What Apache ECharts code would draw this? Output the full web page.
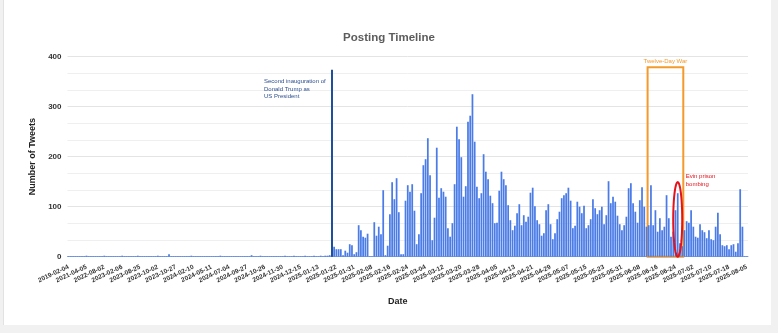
<!DOCTYPE html>
<html><head><meta charset="utf-8">
<script src="https://cdn.jsdelivr.net/npm/echarts@6/dist/echarts.min.js"></script>
<style>
html,body{margin:0;padding:0;background:#f1f1f1;width:778px;height:333px;overflow:hidden}
#card{position:absolute;left:3px;top:0;width:767px;height:325px;background:#fff;border-left:1px solid #e2e2e2}
#chart{position:absolute;left:0;top:0;width:778px;height:333px}
</style></head><body><div id="card"></div><div id="chart"></div>
<script>
// ---- categories (posting dates) ----
const datesEarly = [
'2019-02-04','2019-05-12','2019-09-03','2019-12-20','2020-03-15','2020-07-08','2020-10-22','2021-01-30',
'2021-04-05','2021-06-18','2021-08-27','2021-11-09','2022-01-14','2022-03-22','2022-05-19','2022-07-01',
'2022-08-02','2022-08-29','2022-09-25','2022-10-20','2022-11-14','2022-12-08','2022-12-30','2023-01-19',
'2023-02-06','2023-03-04','2023-03-30','2023-04-25','2023-05-20','2023-06-14','2023-07-09','2023-08-02',
'2023-08-25','2023-08-29','2023-09-03','2023-09-08','2023-09-14','2023-09-19','2023-09-24','2023-09-28',
'2023-10-02','2023-10-05','2023-10-08','2023-10-11','2023-10-14','2023-10-18','2023-10-21','2023-10-24',
'2023-10-27','2023-11-10','2023-11-24','2023-12-09','2023-12-23','2024-01-08','2024-01-22','2024-01-28',
'2024-02-10','2024-02-22','2024-03-06','2024-03-19','2024-04-01','2024-04-14','2024-04-26','2024-05-03',
'2024-05-11','2024-05-18','2024-05-25','2024-06-01','2024-06-08','2024-06-15','2024-06-22','2024-06-28',
'2024-07-04','2024-07-15','2024-07-26','2024-08-06','2024-08-17','2024-08-28','2024-09-08','2024-09-18',
'2024-09-27','2024-10-01','2024-10-05','2024-10-09','2024-10-13','2024-10-17','2024-10-20','2024-10-23',
'2024-10-26','2024-10-31','2024-11-05','2024-11-09','2024-11-14','2024-11-19','2024-11-23','2024-11-27',
'2024-11-30','2024-12-02','2024-12-04','2024-12-06','2024-12-08','2024-12-10','2024-12-12','2024-12-14',
'2024-12-15','2024-12-18','2024-12-21','2024-12-25','2024-12-29','2025-01-02','2025-01-06','2025-01-10',
'2025-01-13'];
const datesJan2025 = ['2025-01-14','2025-01-15','2025-01-16','2025-01-17','2025-01-19','2025-01-20','2025-01-21','2025-01-22',
'2025-01-23','2025-01-24','2025-01-25','2025-01-27','2025-01-28','2025-01-29','2025-01-30','2025-01-31'];
const datesFeb2025 = ['2025-02-01','2025-02-02','2025-02-03','2025-02-04','2025-02-05','2025-02-06','2025-02-07','2025-02-08',
'2025-02-09','2025-02-10','2025-02-11','2025-02-12','2025-02-13','2025-02-14','2025-02-15','2025-02-16','2025-02-17','2025-02-18',
'2025-02-19','2025-02-20','2025-02-21','2025-02-22','2025-02-23','2025-02-24','2025-02-25','2025-02-26','2025-02-27','2025-02-28'];
const datesMar2025 = ['2025-03-01','2025-03-02','2025-03-03','2025-03-04','2025-03-05','2025-03-06','2025-03-07','2025-03-08',
'2025-03-09','2025-03-10','2025-03-11','2025-03-12','2025-03-13','2025-03-14','2025-03-15','2025-03-16','2025-03-17','2025-03-18',
'2025-03-19','2025-03-20','2025-03-21','2025-03-22','2025-03-23','2025-03-24','2025-03-25','2025-03-26','2025-03-27','2025-03-28',
'2025-03-29','2025-03-30','2025-03-31'];
const datesApr2025 = ['2025-04-01','2025-04-02','2025-04-03','2025-04-04','2025-04-05','2025-04-06','2025-04-07','2025-04-08',
'2025-04-09','2025-04-10','2025-04-11','2025-04-12','2025-04-13','2025-04-14','2025-04-15','2025-04-16','2025-04-17','2025-04-18',
'2025-04-19','2025-04-20','2025-04-21','2025-04-22','2025-04-23','2025-04-24','2025-04-25','2025-04-26','2025-04-27','2025-04-28',
'2025-04-29','2025-04-30'];
const datesMay2025 = ['2025-05-01','2025-05-02','2025-05-03','2025-05-04','2025-05-05','2025-05-06','2025-05-07','2025-05-08',
'2025-05-09','2025-05-10','2025-05-11','2025-05-12','2025-05-13','2025-05-14','2025-05-15','2025-05-16','2025-05-17','2025-05-18',
'2025-05-19','2025-05-20','2025-05-21','2025-05-22','2025-05-23','2025-05-24','2025-05-25','2025-05-26','2025-05-27','2025-05-28',
'2025-05-29','2025-05-30','2025-05-31'];
const datesJun2025 = ['2025-06-01','2025-06-02','2025-06-03','2025-06-04','2025-06-05','2025-06-06','2025-06-07','2025-06-08',
'2025-06-09','2025-06-10','2025-06-11','2025-06-12','2025-06-13','2025-06-14','2025-06-15','2025-06-16','2025-06-17','2025-06-18',
'2025-06-19','2025-06-20','2025-06-21','2025-06-22','2025-06-23','2025-06-24','2025-06-25','2025-06-26','2025-06-27','2025-06-28',
'2025-06-29','2025-06-30'];
const datesJul2025 = ['2025-07-01','2025-07-02','2025-07-03','2025-07-04','2025-07-05','2025-07-06','2025-07-07','2025-07-08',
'2025-07-09','2025-07-10','2025-07-11','2025-07-12','2025-07-13','2025-07-14','2025-07-15','2025-07-16','2025-07-17','2025-07-18',
'2025-07-19','2025-07-20','2025-07-21','2025-07-22','2025-07-23','2025-07-24','2025-07-25'];
const datesAug2025 = ['2025-08-05'];

// ---- series values: number of tweets per date ----
const countsEarly = [
1,1,1,1,1,1,1,1,2,1, 1,1,1,1,1,1,2,1,1,1, 1,1,1,1,2,1,1,1,1,1, 1,2,1,1,1,1,1,1,1,1,
2,1,1,1,1,5,1,1,1,1, 1,1,1,1,1,2,1,1,1,1, 1,1,1,1,1,1,1,1,2,1, 1,1,1,1,1,1,1,1,1,1,
1,1,3,1,1,1,2,1,1,1, 1,1,1,1,1,1,1,2,1,1, 1,2,1,1,1,1,2,1,1,1, 2,1,1];
const countsJan2025 = [2,1,2,2,3,17,20,15,15,15,3,12,8,25,23,5];
const countsFeb2025 = [9,63,53,40,38,46,1,1,69,42,60,45,133,3,22,85,149,115,157,89,5,5,112,143,130,145,92,25];
const countsMar2025 = [45,127,183,195,237,163,33,78,218,118,137,130,120,57,40,67,145,260,235,199,120,141,270,282,325,230,140,117,127,205,170];
const countsApr2025 = [155,122,107,67,68,132,170,155,143,103,73,53,62,87,105,63,83,70,80,128,138,101,73,65,42,47,93,105,65,35];
const countsMay2025 = [47,75,90,117,123,127,138,112,57,62,110,100,87,102,57,63,75,115,97,85,93,100,65,83,151,107,120,110,82,65,53];
const countsJun2025 = [63,80,137,147,107,90,68,113,139,100,60,63,143,63,93,50,77,53,60,123,77,40,50,93,127,27,21,53,71,68];
const countsJul2025 = [93,60,40,38,65,53,49,37,53,35,33,60,88,45,23,21,23,15,23,25,10,27,135,60,1];
const countsAug2025 = [1];

// ---- y axis ticks ----
const yTicks = [0, 100, 200, 300, 400];

// ---- annotations ----
const inaugurationDate = '2025-01-20';
const inaugurationLineTop = 374;
const warBoxStart = '2025-06-12';
const warBoxEnd = '2025-06-25';
const warBoxTop = 379;
const evinDate = '2025-06-25';
const evinEllipseTop = 149;

const dates = [].concat(datesEarly, datesJan2025, datesFeb2025, datesMar2025, datesApr2025, datesMay2025, datesJun2025, datesJul2025, datesAug2025);
const counts = [].concat(countsEarly, countsJan2025, countsFeb2025, countsMar2025, countsApr2025, countsMay2025, countsJun2025, countsJul2025, countsAug2025);

const FONT = '"Liberation Sans", Arial, sans-serif';
const chart = echarts.init(document.getElementById('chart'));
const lineIdx = dates.indexOf(inaugurationDate);
const evinIdx = dates.indexOf(evinDate);

chart.setOption({
  animation: false,
  title: {
    text: 'Posting Timeline', left: 'center', top: 27,
    textStyle: { fontFamily: FONT, fontSize: 11.5, fontWeight: 'bold', color: '#5c5c5c' }
  },
  grid: { left: 67.5, right: 30, top: 56.7, bottom: 76.3 },
  xAxis: {
    type: 'category', data: dates,
    name: 'Date', nameLocation: 'middle', nameGap: 40,
    nameTextStyle: { fontFamily: FONT, fontSize: 9, fontWeight: 'bold', color: '#222', padding: [0, 20, 0, 0] },
    axisLine: { lineStyle: { color: '#8ea6dc', width: 1 } },
    axisTick: { show: false },
    axisLabel: { interval: 7, rotate: 25, fontFamily: FONT, fontSize: 6.5, fontWeight: 'bold', color: '#333', margin: 10 }
  },
  yAxis: {
    type: 'value', min: yTicks[0], max: yTicks[yTicks.length - 1], interval: yTicks[1] - yTicks[0],
    name: 'Number of Tweets', nameLocation: 'middle', nameGap: 27,
    nameTextStyle: { fontFamily: FONT, fontSize: 9, fontWeight: 'bold', color: '#222', padding: [0, 0, 0, 0] },
    axisLine: { show: false }, axisTick: { show: false },
    axisLabel: { fontFamily: FONT, fontSize: 8, fontWeight: 'bold', color: '#333', margin: 6 },
    splitLine: { lineStyle: { color: '#e4e4e4' } },
    minorTick: { show: false, splitNumber: 3 },
    minorSplitLine: { show: true, lineStyle: { color: '#efefef' } }
  },
  graphic: [{
    type: 'text', left: 264, top: 78, z: 100,
    style: { text: 'Second inauguration of\nDonald Trump as\nUS President', fill: '#2d4f8f',
      fontFamily: FONT, fontSize: 6, lineHeight: 7.3 }
  }],
  series: [{
    type: 'bar', data: counts, barCategoryGap: '22%',
    itemStyle: { color: '#4a7be6' },
    markLine: {
      silent: true, symbol: ['none', 'none'], label: { show: false },
      lineStyle: { color: '#1f4e9b', width: 2, type: 'solid' },
      data: [[{ coord: [lineIdx, 0] }, { coord: [lineIdx, inaugurationLineTop] }]]
    },
    markArea: {
      silent: true,
      itemStyle: { color: 'rgba(0,0,0,0)', borderColor: '#f39a2d', borderWidth: 2 },
      label: { show: true, position: 'top', distance: 2, formatter: 'Twelve-Day War', color: '#f39a2d', fontFamily: FONT, fontSize: 6 },
      data: [[{ coord: [dates.indexOf(warBoxStart), 0] }, { coord: [dates.indexOf(warBoxEnd), warBoxTop] }]]
    }
  }, {
    type: 'custom', clip: false, z: 10, silent: true,
    data: [[evinIdx, evinEllipseTop]],
    renderItem: function (params, api) {
      const top = api.coord([api.value(0), api.value(1)]);
      const bot = api.coord([api.value(0), 0]);
      const cx = top[0], cy = (top[1] + bot[1]) / 2, ry = (bot[1] - top[1]) / 2, rx = 4.5;
      const pts = [];
      for (let i = 0; i < 48; i++) { const a = i / 48 * Math.PI * 2; pts.push([cx + rx * Math.cos(a), cy + ry * Math.sin(a)]); }
      return { type: 'group', children: [
        { type: 'polygon', shape: { points: pts }, style: { fill: 'none', stroke: '#e3121b', lineWidth: 2 } },
        { type: 'text', x: cx + 8, y: top[1] - 9.5, style: { text: 'Evin prison\nbombing', fill: '#e3121b', fontFamily: FONT, fontSize: 6, lineHeight: 7.5 } }
      ] };
    }
  }]
});
</script></body></html>
